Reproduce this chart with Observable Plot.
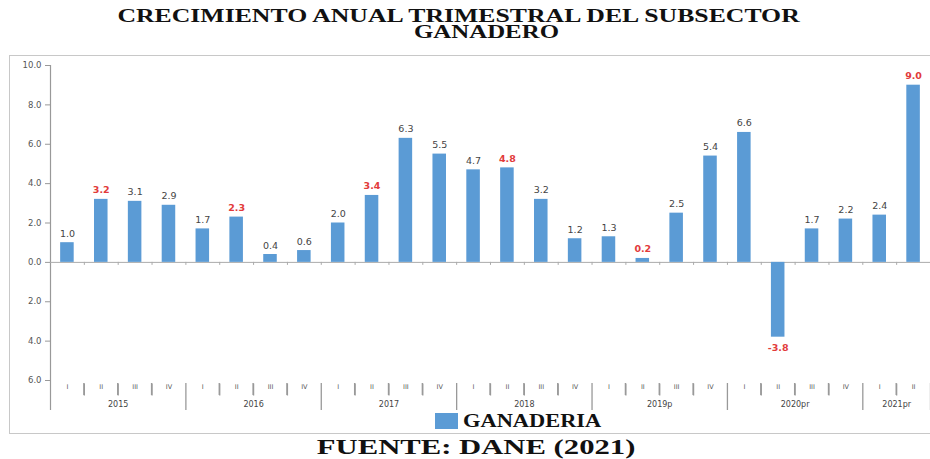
<!DOCTYPE html>
<html>
<head>
<meta charset="utf-8">
<script src="https://cdn.jsdelivr.net/npm/d3@7"></script>
<script src="https://cdn.jsdelivr.net/npm/@observablehq/plot@0.6"></script>
<style>
  html, body { margin: 0; padding: 0; background: #fff; }
  #wrap { position: relative; width: 930px; height: 459px; overflow: hidden; background: #fff; }
  .serif { font-family: "Liberation Serif", "DejaVu Serif", serif; font-weight: bold; color: #111; white-space: nowrap; }
  #t1 { position: absolute; top: 7px; left: 0; width: 918px; text-align: center; font-size: 18px; line-height: 18px; }
  #t2 { position: absolute; top: 23px; left: 22px; width: 930px; text-align: center; font-size: 18px; line-height: 18px; }
  #t1 span { display: inline-block; transform: scaleX(1.43); }
  #t2 span { display: inline-block; transform: scaleX(1.38); }
  #frame { position: absolute; left: 9px; top: 55px; width: 930px; height: 377px; border-top: 1px solid #c8c8c8; border-left: 1px solid #c8c8c8; border-bottom: 1px solid #c8c8c8; pointer-events: none; }
  #chart { position: absolute; left: 0; top: 55px; width: 930px; }
  #legend { position: absolute; top: 411px; left: 435px; display: flex; align-items: center; }
  #legend .sw { width: 23px; height: 16px; background: #5b9bd5; margin-right: 5px; }
  #legend .lb { font-size: 19px; line-height: 20px; display: inline-block; transform-origin: left center; transform: scaleX(1.18); }
  #cap { position: absolute; top: 436px; left: 0; width: 953px; text-align: center; font-size: 21px; line-height: 22px; }
  #cap span { display: inline-block; transform: scaleX(1.46); }
</style>
</head>
<body>
<div id="wrap">
  <div id="t1" class="serif"><span>CRECIMIENTO ANUAL TRIMESTRAL DEL SUBSECTOR</span></div>
  <div id="t2" class="serif"><span>GANADERO</span></div>
  <div id="frame"></div>
  <div id="chart"></div>
  <div id="legend" class="serif"><div class="sw"></div><span class="lb">GANADERIA</span></div>
  <div id="cap" class="serif"><span>FUENTE: DANE (2021)</span></div>
</div>
<script>
// ---- data ----
const years    = ["2015","2015","2015","2015","2016","2016","2016","2016","2017","2017","2017","2017","2018","2018","2018","2018","2019p","2019p","2019p","2019p","2020pr","2020pr","2020pr","2020pr","2021pr","2021pr"];
const quarters = ["I","II","III","IV","I","II","III","IV","I","II","III","IV","I","II","III","IV","I","II","III","IV","I","II","III","IV","I","II"];
const values   = [1.0,3.2,3.1,2.9,1.7,2.3,0.4,0.6,2.0,3.4,6.3,5.5,4.7,4.8,3.2,1.2,1.3,0.2,2.5,5.4,6.6,-3.8,1.7,2.2,2.4,9.0];
const yearLabels = ["2015","2016","2017","2018","2019p","2020pr","2021pr"];
const yTicks = [-6,-4,-2,0,2,4,6,8,10];

// ---- build ----
const data = values.map((v, i) => ({key: years[i] + "-" + quarters[i], year: years[i], q: quarters[i], value: v, last: i === values.length - 1}));
const keys = data.map(d => d.key);
const W = 930, H = 375, mL = 50, mR = 0, mT = 10, mB = 50;
const step = (W - mL - mR) / keys.length;
const yMin = d3.min(yTicks);
const pxPerUnit = (H - mT - mB) / (10 - yMin);

const yearMid = yearLabels.map(y => {
  const ks = data.filter(d => d.year === y);
  return {year: y, key: ks[Math.floor((ks.length - 1) / 2)].key};
});

const blue = "#5b9bd5", red = "#e23b3b", gray = "#444", axisGray = "#999", sepGray = "#999";
const yearSeps = data.filter(d => d.q === "IV" || d.last);
const quarterSeps = data.filter(d => !(d.q === "IV" || d.last));

const chart = Plot.plot({
  width: W, height: H,
  marginLeft: mL, marginRight: mR, marginTop: mT, marginBottom: mB,
  style: {background: "transparent", fontFamily: "'DejaVu Sans', sans-serif"},
  x: {type: "band", domain: keys, paddingInner: 0.6, paddingOuter: 0.3, round: false, axis: null},
  y: {domain: [yMin, 10], axis: null},
  marks: [
    Plot.axisY({ticks: yTicks, tickFormat: d => Math.abs(d).toFixed(1), tickSize: 5, tickPadding: 4, fontSize: 8.5, color: "#555", stroke: axisGray, label: null}),
    Plot.ruleX([keys[0]], {x: d => d, dx: -step / 2, stroke: axisGray, strokeWidth: 1.2}),
    Plot.ruleX([keys[0]], {x: d => d, y1: yMin, y2: yMin, dx: -step / 2, insetTop: 0, insetBottom: -30, stroke: axisGray, strokeWidth: 1.2}),
    Plot.ruleY([0], {stroke: "#aaa"}),
    Plot.ruleX(data, {x: "key", y1: 0, y2: 0, dx: step / 2, insetTop: 0, insetBottom: -3, stroke: "#aaa"}),
    Plot.barY(data, {x: "key", y: "value", fill: blue}),
    Plot.text(data.filter(d => d.value >= 0 && d.q !== "II"), {x: "key", y: "value", text: d => d.value.toFixed(1), dy: -9, fontSize: 9.5, fill: gray}),
    Plot.text(data.filter(d => d.value >= 0 && d.q === "II"), {x: "key", y: "value", text: d => d.value.toFixed(1), dy: -9, fontSize: 9.5, fontWeight: "bold", fill: red}),
    Plot.text(data.filter(d => d.value < 0), {x: "key", y: "value", text: d => d.value.toFixed(1), dy: 11, fontSize: 9.5, fontWeight: "bold", fill: red}),
    Plot.text(data, {x: "key", text: "q", frameAnchor: "bottom", dy: 8, fontSize: 6.5, fill: "#555"}),
    Plot.text(yearMid, {x: "key", text: "year", frameAnchor: "bottom", dx: step / 2, dy: 26, fontSize: 8, fill: "#444"}),
    Plot.ruleX(yearSeps, {x: "key", y1: yMin, y2: yMin, dx: step / 2, insetTop: 3, insetBottom: -30, stroke: sepGray, strokeWidth: 1.3}),
    // quarter separators as links (between quarters inside a year)
    Plot.link(quarterSeps, {x1: "key", x2: "key", y1: yMin - 3 / pxPerUnit, y2: yMin - 15 / pxPerUnit, dx: step / 2, stroke: sepGray, strokeWidth: 1.3})
  ]
});
document.getElementById("chart").appendChild(chart);

// also draw the quarter separators with the chart's own x and y scales
const xs = chart.scale("x"), ys = chart.scale("y");
if (xs && ys) {
  const xScale = d3.scaleBand().domain(xs.domain).range(xs.range).paddingInner(xs.paddingInner ?? 0.6).paddingOuter(xs.paddingOuter ?? 0.3).align(xs.align ?? 0.5);
  const yScale = d3.scaleLinear().domain(ys.domain).range(ys.range);
  const svg = d3.select(chart.tagName.toLowerCase() === "svg" ? chart : chart.querySelector("svg"));
  const y0 = yScale(yMin);
  svg.append("g").attr("stroke", sepGray).attr("stroke-width", 1.3)
    .selectAll("line").data(quarterSeps).join("line")
    .attr("x1", d => xScale(d.key) + xScale.bandwidth() / 2 + xScale.step() / 2)
    .attr("x2", d => xScale(d.key) + xScale.bandwidth() / 2 + xScale.step() / 2)
    .attr("y1", y0 + 3)
    .attr("y2", y0 + 15);
}
</script>
</body>
</html>
